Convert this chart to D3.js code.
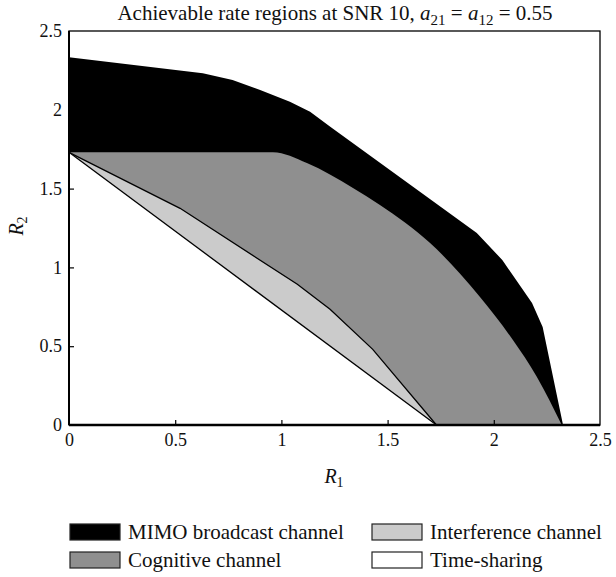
<!DOCTYPE html>
<html>
<head>
    <meta charset="utf-8">
    <title>Achievable rate regions</title>
    <style>
        body { margin: 0; background: #fff; }
        text { font-family: "Liberation Serif", "DejaVu Serif", serif; fill: #111; }
        .tick text { font-size: 18px; }
        .region-line { fill: none; stroke: #000; stroke-width: 1.3px; }
    </style>
</head>
<body>
    <script src="https://d3js.org/d3.v7.min.js"></script>
    <script>
        const width = 616;
        const height = 577;

        // boundary points (R1, R2)
        const mimoR1 = [0, 0.63, 0.77, 0.90, 1.04, 1.135, 1.23, 1.92, 2.04, 2.18, 2.23, 2.326];
        const mimoR2 = [2.333, 2.232, 2.189, 2.126, 2.051, 1.988, 1.893, 1.218, 1.047, 0.774, 0.622, 0];

        const cognitiveR1 = [0, 0.96, 1.12, 1.337, 1.464, 1.70, 1.935, 2.09, 2.203, 2.32];
        const cognitiveR2 = [1.73, 1.73, 1.662, 1.504, 1.396, 1.155, 0.812, 0.539, 0.305, 0];

        const interferenceR1 = [0, 0.523, 1.075, 1.229, 1.43, 1.73];
        const interferenceR2 = [1.73, 1.375, 0.893, 0.735, 0.48, 0];

        const timeShareR1 = [0, 1.73];
        const timeShareR2 = [1.73, 0];

        const ticks = [0, 0.5, 1, 1.5, 2, 2.5];

        const legendItems = [
            { label: "MIMO broadcast channel", fill: "#000" },
            { label: "Interference channel", fill: "#cbcbcb" },
            { label: "Cognitive channel", fill: "#8f8f8f" },
            { label: "Time-sharing", fill: "#fff" }
        ];

        const x = d3.scaleLinear().domain([0, 2.5]).range([69, 600]);
        const y = d3.scaleLinear().domain([0, 2.5]).range([425, 31]);

        const svg = d3.select("body").append("svg")
            .attr("width", width)
            .attr("height", height);

        function toPts(r1, r2) {
            return r1.map((v, i) => [v, r2[i]]);
        }

        // closed region: boundary plus the origin corner
        function regionPath(pts, curve) {
            const line = d3.line().x(d => x(d[0])).y(d => y(d[1])).curve(curve || d3.curveLinear);
            return line(pts) + "L" + x(0) + "," + y(0) + "Z";
        }

        const lineGen = d3.line().x(d => x(d[0])).y(d => y(d[1]));

        const plot = svg.append("g");

        plot.append("path")
            .attr("d", regionPath(toPts(mimoR1, mimoR2)))
            .attr("fill", "#000");

        plot.append("path")
            .attr("d", regionPath(toPts(cognitiveR1, cognitiveR2), d3.curveMonotoneX))
            .attr("fill", "#8f8f8f");

        plot.append("path")
            .attr("d", regionPath(toPts(interferenceR1, interferenceR2)))
            .attr("fill", "#cbcbcb");
        plot.append("path")
            .attr("class", "region-line")
            .attr("d", lineGen(toPts(interferenceR1, interferenceR2)));

        plot.append("path")
            .attr("d", regionPath(toPts(timeShareR1, timeShareR2)))
            .attr("fill", "#fff");
        plot.append("path")
            .attr("class", "region-line")
            .attr("d", lineGen(toPts(timeShareR1, timeShareR2)));

        // axes, ticks pointing inward
        const xAxis = svg.append("g")
            .attr("transform", `translate(0,${y(0)})`)
            .call(d3.axisBottom(x).tickValues(ticks).tickSize(-5).tickPadding(8).tickFormat(d3.format("")));
        const yAxis = svg.append("g")
            .attr("transform", `translate(${x(0)},0)`)
            .call(d3.axisLeft(y).tickValues(ticks).tickSize(-5).tickPadding(7).tickFormat(d3.format("")));
        [xAxis, yAxis].forEach(a => {
            a.select(".domain").remove();
            a.selectAll(".tick line").attr("stroke", "#000").attr("stroke-width", 1.2);
            a.selectAll(".tick text").attr("fill", "#111");
        });
        xAxis.selectAll(".tick").filter(d => d === 0 || d === 2.5).select("line").remove();
        yAxis.selectAll(".tick").filter(d => d === 0 || d === 2.5).select("line").remove();

        svg.append("rect")
            .attr("x", x(0)).attr("y", y(2.5))
            .attr("width", x(2.5) - x(0)).attr("height", y(0) - y(2.5))
            .attr("fill", "none").attr("stroke", "#000").attr("stroke-width", 1.3);
        svg.append("line")
            .attr("x1", x(0)).attr("x2", x(2.5)).attr("y1", y(0)).attr("y2", y(0))
            .attr("stroke", "#000").attr("stroke-width", 2.5);
        svg.append("line")
            .attr("x1", x(0)).attr("x2", x(0)).attr("y1", y(0)).attr("y2", y(2.5))
            .attr("stroke", "#000").attr("stroke-width", 2);

        // title
        const title = svg.append("text")
            .attr("x", 335).attr("y", 20)
            .attr("text-anchor", "middle")
            .style("font-size", "21px");
        title.append("tspan").text("Achievable rate regions at SNR 10, ");
        title.append("tspan").attr("font-style", "italic").text("a");
        title.append("tspan").attr("dy", 5).style("font-size", "15px").text("21");
        title.append("tspan").attr("dy", -5).text(" = ");
        title.append("tspan").attr("font-style", "italic").text("a");
        title.append("tspan").attr("dy", 5).style("font-size", "15px").text("12");
        title.append("tspan").attr("dy", -5).text(" = 0.55");

        // axis labels
        const xl = svg.append("text")
            .attr("x", 334).attr("y", 483)
            .attr("text-anchor", "middle")
            .style("font-size", "20px");
        xl.append("tspan").attr("font-style", "italic").text("R");
        xl.append("tspan").attr("dy", 4).style("font-size", "14px").text("1");

        const yl = svg.append("text")
            .attr("transform", "translate(23,226) rotate(-90)")
            .attr("text-anchor", "middle")
            .style("font-size", "20px");
        yl.append("tspan").attr("font-style", "italic").text("R");
        yl.append("tspan").attr("dy", 4).style("font-size", "14px").text("2");

        // legend
        const legend = svg.append("g")
            .selectAll("g")
            .data(legendItems)
            .enter().append("g")
            .attr("transform", (d, i) => `translate(${i % 2 === 0 ? 70 : 372},${i < 2 ? 524 : 552})`);
        legend.append("rect")
            .attr("width", 50).attr("height", 16)
            .attr("fill", d => d.fill)
            .attr("stroke", "#222").attr("stroke-width", 1.2);
        legend.append("text")
            .attr("x", 58).attr("y", 15)
            .style("font-size", "21px")
            .text(d => d.label);
    </script>
</body>
</html>
